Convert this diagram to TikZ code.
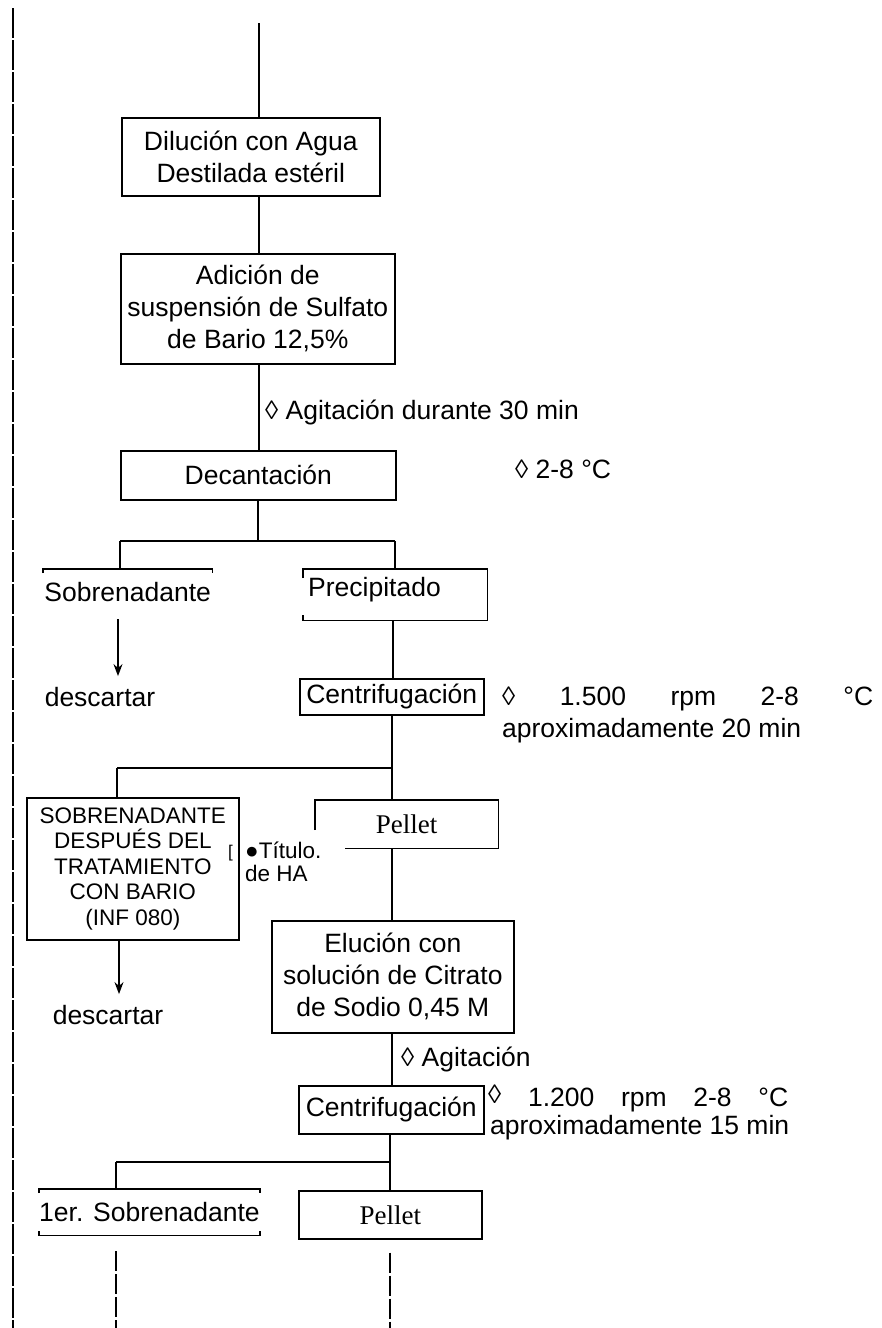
\documentclass[tikz,border=0pt]{standalone}
\usepackage{fontspec}
\setmainfont{Liberation Sans}
\newfontfamily\pelfam{Liberation Serif}
\usetikzlibrary{arrows.meta}
\begin{document}
\begin{tikzpicture}[x=1pt,y=-1pt,
  box/.style={draw, line width=1.6pt, align=center, inner sep=0pt, anchor=north west, font=\fontsize{26.5}{32}\selectfont},
  bord/.style={line width=1.6pt},
  conn/.style={line width=1.3pt},
  arr/.style={line width=1.3pt, -{Stealth[length=12pt,width=9pt]}},
  lbl/.style={font=\fontsize{26.5}{32}\selectfont, inner sep=0pt},
  small/.style={font=\fontsize{22.5}{25.5}\selectfont, inner sep=0pt},
  pel/.style={anchor=north west, inner sep=0pt, font=\pelfam\fontsize{27}{32}\selectfont},
  tail/.style={line width=1.1pt, dash pattern=on 20pt off 3pt}]
\useasboundingbox (0,0) rectangle (881,1328);
% left margin line
\draw[line width=2.2pt, dash pattern=on 30pt off 2pt] (13,8) -- (13,1328);
% boxes
\node[box, minimum width=258pt, minimum height=78pt] (dil) at (121,117) {Dilución con Agua\\Destilada estéril};
\node[box, minimum width=274pt, minimum height=110pt] (adi) at (120,253) {Adición de\\suspensión de Sulfato\\de Bario 12,5\%};
\node[box, minimum width=275pt, minimum height=49pt] (dec) at (120,450) {Decantación};
\node[lbl, anchor=base west] (agi1) at (265,419) {◊ Agitación durante 30 min};
\node[lbl, anchor=base west] (temp1) at (515,478) {◊ 2-8 °C};
\coordinate (top) at (259,23);
\draw[conn] (top) -- (dil.north -| top);
\draw[conn] (dil.south -| top) -- (adi.north -| top);
\draw[conn] (adi.south -| top) -- (dec.north -| top);
\coordinate (sp1) at (258,541);
\coordinate (sp1L) at (120,541);
\coordinate (sp1R) at (395,541);
\draw[conn] (dec.south -| sp1) -- (sp1);
\draw[conn] (sp1L) -- (sp1R);
% Sobrenadante
\node[lbl, anchor=north west, minimum width=169pt, minimum height=46pt] (sob) at (43,569) {Sobrenadante};
\draw[bord] ([yshift=-4pt]sob.north west) -- (sob.north west) -- (sob.north east) -- ([yshift=-4pt]sob.north east);
\draw[conn] (sp1L) -- (sob.north -| sp1L);
% Precipitado
\node[anchor=north west, minimum width=184pt, minimum height=51pt, inner sep=0pt] (pre) at (303,569) {};
\node[lbl, anchor=base west] (pret) at ([xshift=5pt,yshift=-27pt]pre.north west) {Precipitado};
\draw[bord] ([yshift=-9pt]pre.north west) -- (pre.north west) -- (pre.north east) -- (pre.south east) -- (pre.south west) -- ([yshift=5pt]pre.south west);
\draw[conn] (sp1R) -- (pre.north -| sp1R);
% descartar 1
\node[lbl, inner ysep=11pt] (des1) at (100,697) {descartar};
\coordinate (a1) at (118,0);
\draw[arr] ([yshift=-4pt]sob.south -| a1) -- (des1.north -| a1);
% Centrifugacion 1
\node[box, minimum width=184pt, minimum height=36pt] (cen1) at (299,678) {Centrifugación};
\coordinate (cx1) at (393,0);
\draw[conn] (pre.south -| cx1) -- (cen1.north -| cx1);
\node[lbl, anchor=base west] (spec1) at (502,705) {\hbox to 371pt{◊\hfill 1.500\hfill rpm\hfill 2-8\hfill °C}};
\node[lbl, anchor=base west] (spec1b) at (502,737) {aproximadamente 20 min};
% split 2
\coordinate (sp2) at (392,768);
\coordinate (sp2L) at (117,768);
\draw[conn] (cen1.south -| sp2) -- (sp2) -- (sp2L);
\node[box, font=\fontsize{22.5}{25.5}\selectfont, minimum width=212pt, minimum height=142pt] (sob2) at (26,797) {SOBRENADANTE\\DESPUÉS DEL\\TRATAMIENTO\\CON BARIO\\(INF 080)};
\draw[conn] (sp2L) -- (sob2.north -| sp2L);
% Pellet 1
\node[pel, minimum width=183pt, minimum height=48pt] (pel1) at (315,800) {Pellet};
\draw[bord] ([yshift=-30pt]pel1.north west) -- (pel1.north west) -- (pel1.north east) -- (pel1.south east) -- ([xshift=30pt]pel1.south west);
\draw[conn] (sp2) -- (pel1.north -| sp2);
\node[anchor=base west, inner sep=0pt, font=\fontsize{17}{17}\selectfont] (brk) at (228,857) {[};
\node[small, anchor=base west] (tit) at (245,858) {●Título.};
\node[small, anchor=base west] (deha) at (245,881) {de HA};
% Elucion
\node[box, minimum width=242pt, minimum height=112pt] (elu) at (271,920) {Elución con\\solución de Citrato\\de Sodio 0,45 M};
\coordinate (cx2) at (392,0);
\draw[conn] (pel1.south -| cx2) -- (elu.north -| cx2);
% descartar 2
\node[lbl, inner ysep=11pt] (des2) at (108,1015) {descartar};
\coordinate (a2) at (119,0);
\draw[arr] (sob2.south -| a2) -- (des2.north -| a2);
% Centrifugacion 2
\node[box, minimum width=185pt, minimum height=48pt] (cen2) at (298,1085) {Centrifugación};
\draw[conn] (elu.south -| cx2) -- (cen2.north -| cx2);
\node[lbl, anchor=base west] (agi2) at (401,1066) {◊ Agitación};
\node[lbl, anchor=base west] (spec2) at (488,1106) {\hbox to 300pt{\raisebox{3pt}{◊}\hfill 1.200\hfill rpm\hfill 2-8\hfill °C}};
\node[lbl, anchor=base west] (spec2b) at (490,1134) {aproximadamente 15 min};
% split 3
\coordinate (sp3) at (390,1162);
\coordinate (sp3L) at (116,1162);
\draw[conn] (cen2.south -| sp3) -- (sp3) -- (sp3L);
\node[lbl, anchor=north west, minimum width=199pt, minimum height=46pt] (sob3) at (39,1189) {1er. Sobrenadante};
\draw[bord] ([yshift=-4pt]sob3.north west) -- (sob3.north west) -- (sob3.north east) -- ([yshift=-4pt]sob3.north east);
\draw[bord] ([yshift=4pt]sob3.south west) -- (sob3.south west) -- (sob3.south east) -- ([yshift=4pt]sob3.south east);
\draw[conn] (sp3L) -- (sob3.north -| sp3L);
\node[pel, draw, line width=1.6pt, minimum width=183pt, minimum height=48pt] (pel2) at (298,1190) {Pellet};
\draw[conn] (sp3) -- (pel2.north -| sp3);
% tails
\coordinate (e1) at (116,1328);
\coordinate (e2) at (390,1328);
\draw[tail] ([yshift=-16pt]sob3.south -| e1) -- (e1);
\draw[tail] ([yshift=-13pt]pel2.south -| e2) -- (e2);
\end{tikzpicture}
\end{document}
